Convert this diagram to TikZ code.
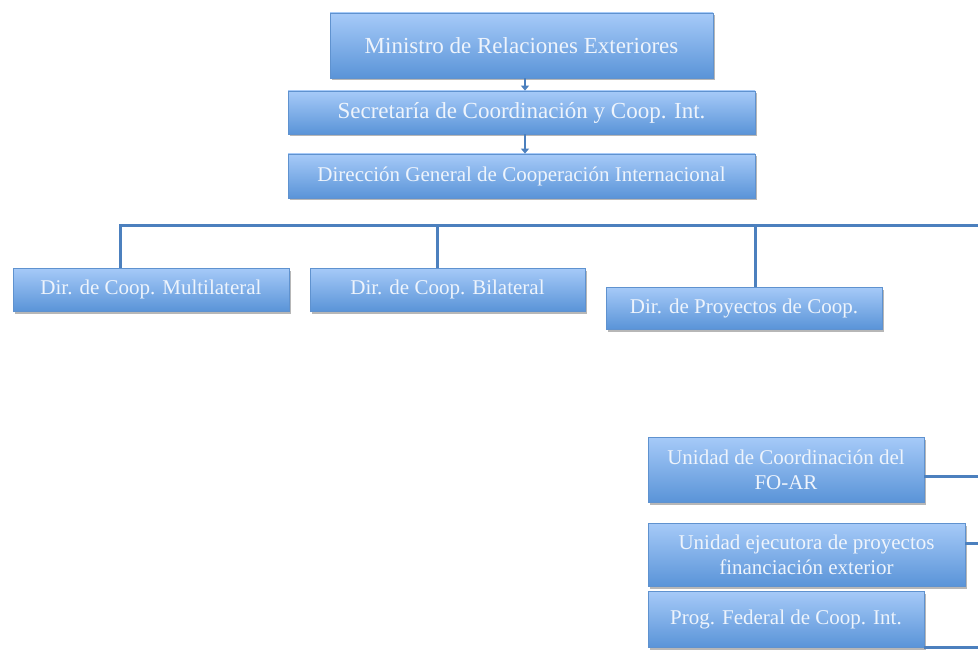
\documentclass[tikz,border=0pt]{standalone}
\usepackage{fontspec}
\setmainfont{Liberation Serif}
\usetikzlibrary{shadows,arrows.meta}
\definecolor{boxtop}{HTML}{A6CAF8}
\definecolor{boxbot}{HTML}{5A94D8}
\definecolor{boxline}{HTML}{5F92CF}
\definecolor{linkc}{HTML}{4C80BE}
\definecolor{txt}{HTML}{EEF4FC}
\tikzset{
  orgbox/.style={draw=boxline, line width=0.8pt, top color=boxtop, bottom color=boxbot,
    text=txt, align=center, inner sep=0pt,
    drop shadow={shadow xshift=1.5pt, shadow yshift=-2.5pt, opacity=0.4, fill=black!70},
    font=\fontsize{21}{25}\selectfont},
  bigtext/.style={font=\fontsize{23}{27}\selectfont},
  link/.style={draw=linkc, line width=3pt},
  arrowlink/.style={draw=linkc, line width=2.5pt, -{Triangle[width=8pt,length=5pt]}}
}
\begin{document}
\begin{tikzpicture}[x=1pt,y=-1pt]
\useasboundingbox (0,0) rectangle (978,650);
\node[orgbox,bigtext,minimum width=383pt,minimum height=65pt] (min) at (521.5,45.5) {Ministro de Relaciones Exteriores};
\node[orgbox,bigtext,minimum width=467pt,minimum height=43pt] (sec) at (521.5,112.5) {Secretaría de Coordinación y Coop. Int.};
\node[orgbox,minimum width=467pt,minimum height=44pt] (dg) at (521.5,176) {Dirección General de Cooperación Internacional};
\node[orgbox,minimum width=276pt,minimum height=43pt] (mul) at (151,289.5) {Dir. de Coop. Multilateral};
\node[orgbox,minimum width=275pt,minimum height=43pt] (bil) at (447.5,289.5) {Dir. de Coop. Bilateral};
\node[orgbox,minimum width=276pt,minimum height=42pt] (pro) at (744,308) {Dir. de Proyectos de Coop.};
\node[orgbox,minimum width=276pt,minimum height=65pt] (uco) at (786,469.5) {Unidad de Coordinación del\\FO-AR};
\node[orgbox,minimum width=317pt,minimum height=63pt] (uej) at (806.5,554.5) {Unidad ejecutora de proyectos\\financiación exterior};
\node[orgbox,minimum width=276pt,minimum height=56pt] (pfe) at (786,619) {Prog. Federal de Coop. Int.};
% connectors
\draw[arrowlink] (min.south -| 525,0) -- (sec.north -| 525,0);
\draw[arrowlink] (sec.south -| 525,0) -- (dg.north -| 525,0);
\coordinate (bl) at (120,225);
\coordinate (br) at (980,225);
\draw[link] (br) -- (bl) -- (mul.north -| bl);
\draw[link] (437,225) -- (bil.north -| 437,0);
\draw[link] (755,225) -- (pro.north -| 755,0);
\coordinate (r1) at (980,476);
\coordinate (r2) at (980,543);
\coordinate (r3) at (980,647);
\draw[link] (uco.east |- r1) -- (r1);
\draw[link] (uej.east |- r2) -- (r2);
\draw[link] (pfe.east |- r3) -- (r3);
\end{tikzpicture}
\end{document}
